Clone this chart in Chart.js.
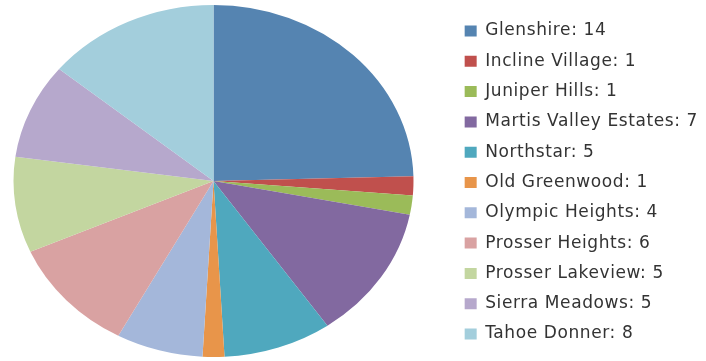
<!DOCTYPE html>
<html>
<head>
<meta charset="utf-8">
<script src="https://cdn.jsdelivr.net/npm/chart.js@4/dist/chart.umd.min.js"></script>
<style>
  html, body { margin: 0; padding: 0; background: #ffffff; }
  #wrap { width: 706px; height: 361px; }
</style>
</head>
<body>
<div id="wrap"><canvas id="c" width="706" height="361"></canvas></div>
<script>
// Listings per neighborhood
const neighborhoods = [
  'Glenshire', 'Incline Village', 'Juniper Hills', 'Martis Valley Estates',
  'Northstar', 'Old Greenwood', 'Olympic Heights', 'Prosser Heights',
  'Prosser Lakeview', 'Sierra Meadows', 'Tahoe Donner'
];
const listings = [14, 1, 1, 7, 5, 1, 4, 6, 5, 5, 8];
const sliceColors = [
  '#5584b1', '#c0504d', '#9bbb59', '#8269a0', '#4fa8be', '#e8954a',
  '#a4b7da', '#d9a2a2', '#c3d6a0', '#b6a8cc', '#a3cedc'
];

// Draws the pie as a slightly wide ellipse: the arcs are laid out by Chart.js,
// then the canvas is scaled around the pie centre before they are painted.
const ellipsePie = {
  id: 'ellipsePie',
  beforeDatasetsDraw(chart, args, opts) {
    const arc = chart.getDatasetMeta(0).data[0];
    const ctx = chart.ctx;
    ctx.save();
    ctx.translate(opts.cx, opts.cy);
    ctx.scale(opts.rx / arc.outerRadius, opts.ry / arc.outerRadius);
    ctx.translate(-arc.x, -arc.y);
  },
  afterDatasetsDraw(chart) {
    chart.ctx.restore();
  }
};

// Slightly wider letter spacing for the legend text (applied for measuring and drawing)
const legendTracking = {
  id: 'legendTracking',
  beforeLayout(chart, args, opts) { chart.ctx.letterSpacing = opts.spacing; },
  beforeDraw(chart, args, opts) { chart.ctx.letterSpacing = opts.spacing; }
};

new Chart(document.getElementById('c'), {
  type: 'pie',
  data: {
    labels: neighborhoods,
    datasets: [{
      data: listings,
      backgroundColor: sliceColors,
      borderWidth: 0
    }]
  },
  options: {
    responsive: false,
    animation: false,
    devicePixelRatio: 1,
    layout: { padding: { top: 8, bottom: 4, right: -2, left: 0 } },
    plugins: {
      tooltip: { enabled: false },
      ellipsePie: { cx: 213.5, cy: 181, rx: 200, ry: 176 },
      legendTracking: { spacing: '0.6px' },
      legend: {
        position: 'right',
        align: 'center',
        labels: {
          boxWidth: 12,
          boxHeight: 11,
          padding: 13.3,
          color: '#333333',
          font: { family: 'DejaVu Sans', size: 17 },
          generateLabels(chart) {
            const items = Chart.overrides.pie.plugins.legend.labels.generateLabels(chart);
            items.forEach((item, i) => {
              item.text = neighborhoods[i] + ': ' + listings[i];
              item.lineWidth = 0;
              item.strokeStyle = 'rgba(0,0,0,0)';
            });
            return items;
          }
        }
      }
    }
  },
  plugins: [ellipsePie, legendTracking]
});
</script>
</body>
</html>
